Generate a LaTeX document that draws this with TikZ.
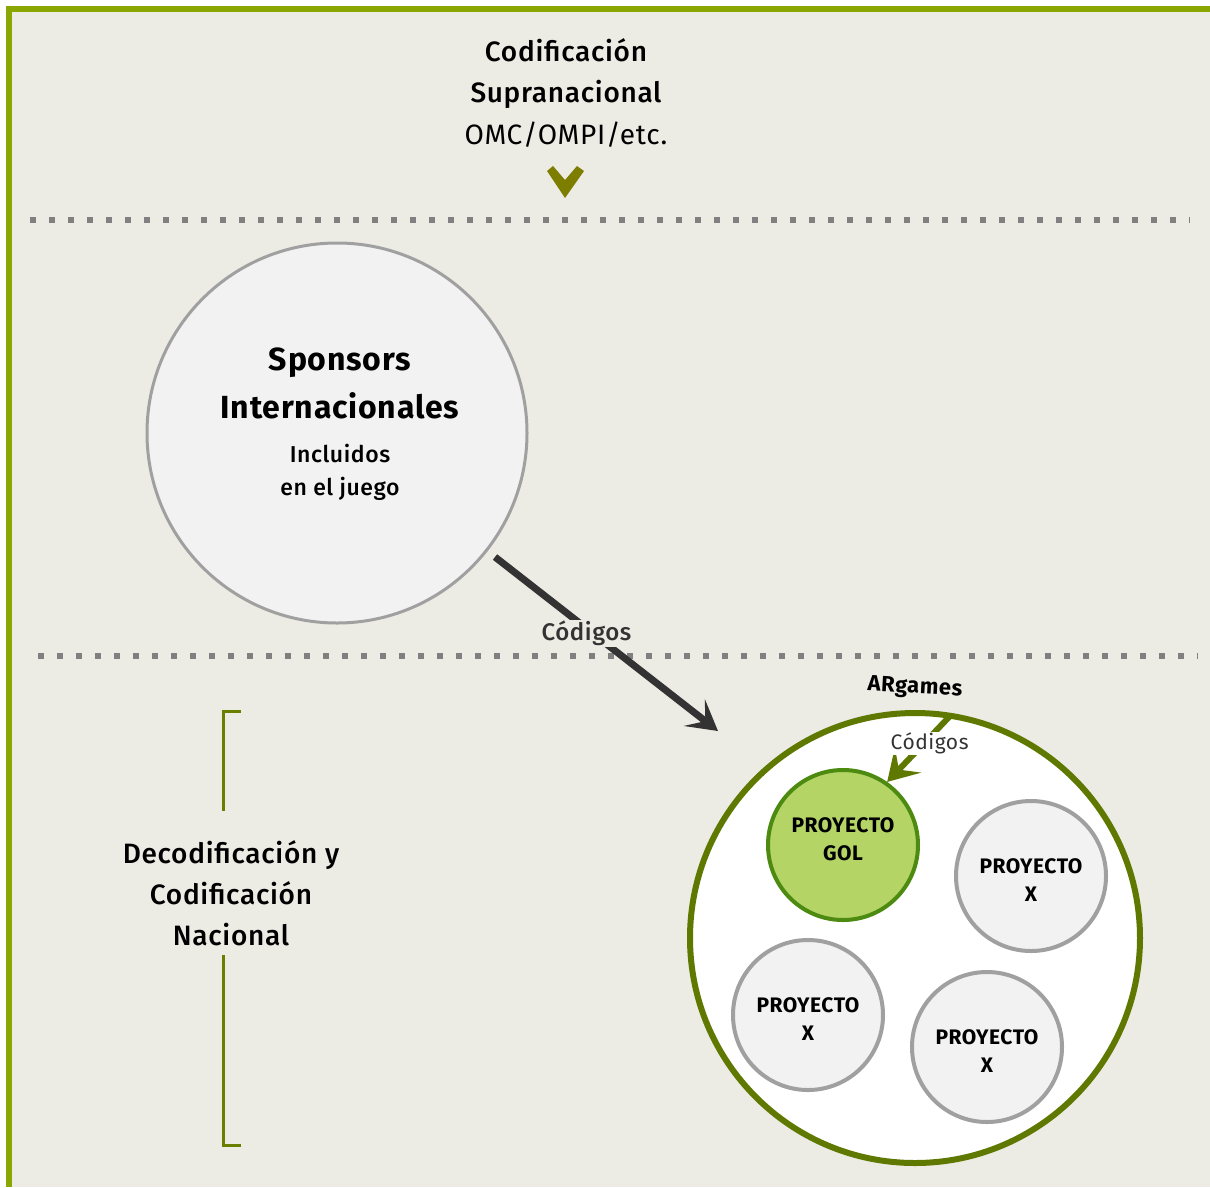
\documentclass[tikz,border=0pt]{standalone}
\usepackage{fontspec}
\setmainfont{Fira Sans}[LetterSpace=2.5]
\newfontfamily\medfont{Fira Sans Medium}[LetterSpace=2.5]
\usetikzlibrary{arrows.meta}
\definecolor{paper}{HTML}{ECEBE4}
\definecolor{frame}{HTML}{8AA600}
\definecolor{olive}{HTML}{5E7800}
\definecolor{chev}{HTML}{7D7D00}
\definecolor{bracketc}{HTML}{687F00}
\definecolor{dots}{HTML}{808080}
\definecolor{ink}{HTML}{333333}
\definecolor{ringgray}{HTML}{A0A0A0}
\definecolor{softfill}{HTML}{F2F2F2}
\definecolor{golfill}{HTML}{B4D465}
\definecolor{golring}{HTML}{4C8A10}
\tikzset{
  dotline/.style={dots, line width=6pt, dash pattern=on 6pt off 13pt},
  bigcirc/.style={circle, draw=ringgray, line width=3pt, fill=softfill, minimum size=380pt, inner sep=0pt, align=center},
  proj/.style={circle, draw=ringgray, line width=4pt, fill=softfill, minimum size=150pt, inner sep=0pt},
  projgol/.style={proj, draw=golring, fill=golfill},
  projtxt/.style={align=center, font=\fontsize{21}{28}\selectfont\bfseries},
  lbl/.style={align=center, text=black},
  cod/.style={fill=#1, inner sep=1pt, text=ink, font=\fontsize{24}{26}\selectfont\medfont},
}
\begin{document}
\begin{tikzpicture}[x=1pt, y=-1pt]
\useasboundingbox (0,0) rectangle (1210,1187);
% background and frame
\fill[white] (0,0) rectangle (1210,1187);
\fill[paper] (9,9) rectangle (1210,1187);
\draw[frame, line width=6pt] (9,1187) -- (9,9) -- (1210,9);

% separators
\draw[dotline] (30,220) -- (1190,220);
\draw[dotline] (38,656) -- (1198,656);

% supranational level
\node[lbl, font=\fontsize{28}{41}\selectfont\medfont] (supra) at (566,74) {Codificación\\Supranacional};
\node[lbl, font=\fontsize{28}{34}\selectfont] (omc) at (566,135) {OMC/OMPI/etc.};
\fill[chev] (547,171) -- (553,166) -- (565,180) -- (577,166) -- (584,171) -- (565,198) -- cycle;

% sponsors
\node[bigcirc] (spons) at (337,433) {};
\node[lbl, font=\fontsize{32}{48}\selectfont\bfseries] (sptitle) at (340,383) {Sponsors\\Internacionales};
\node[lbl, font=\fontsize{23}{33}\selectfont\medfont] (spsub) at (340,472) {Incluidos\\en el juego};

% ARgames ring
\node[circle, draw=olive, line width=6pt, fill=white, minimum size=450pt, inner sep=0pt] (ar) at (915,938) {};
\node[font=\fontsize{22}{24}\selectfont\bfseries, rotate=-3] (argames) at (915,688) {ARgames};

\node[projgol] (gol) at (843,845) {};
\node[projtxt, yshift=6pt] (goltxt) at (gol) {PROYECTO\\GOL};
\node[proj] (px1) at (1031,876) {};
\node[projtxt, yshift=-4pt] (px1txt) at (px1) {PROYECTO\\X};
\node[proj] (px2) at (808,1015) {};
\node[projtxt, yshift=-4pt] (px2txt) at (px2) {PROYECTO\\X};
\node[proj] (px3) at (987,1047) {};
\node[projtxt, yshift=-4pt] (px3txt) at (px3) {PROYECTO\\X};

% code flows
\coordinate (arin) at (950,716);
\draw[ink, line width=7pt, -{Stealth[length=30pt, width=34pt, inset=14pt]}] (495,557) -- (718,731)
  node[cod=paper, pos=0.41, yshift=-5pt] (c1) {Códigos};
\draw[olive, line width=6pt, -{Stealth[length=30pt, width=36pt, inset=13pt]}] (arin) -- (gol.55)
  node[cod=white, pos=0.42, xshift=6pt, font=\fontsize{21}{24}\selectfont] (c2) {Códigos};

% national level
\node[lbl, font=\fontsize{28}{41}\selectfont\medfont] (nac) at (231,893) {Decodificación y\\Codificación\\Nacional};
\coordinate (bt) at (223,711);
\coordinate (bb) at (223,1145);
\draw[bracketc, line width=3pt] (241,711) -- (bt) -- (223,811);
\draw[bracketc, line width=3pt] (223,955) -- (bb) -- (241,1145);
\end{tikzpicture}
\end{document}
